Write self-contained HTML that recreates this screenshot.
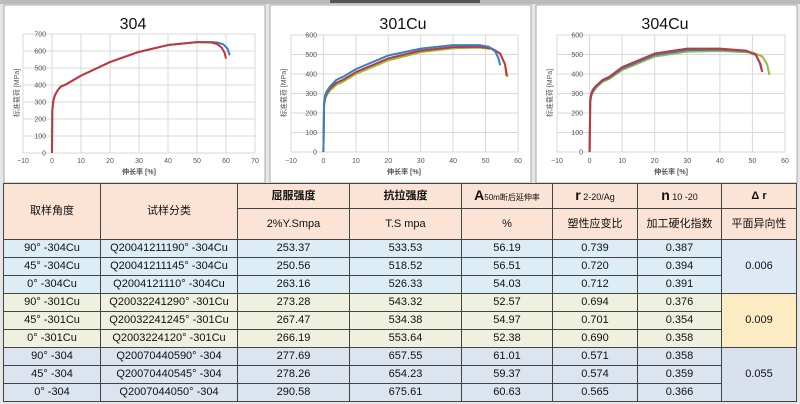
<!DOCTYPE html>
<html><head><meta charset="utf-8"><style>
body{margin:0;width:800px;height:404px;background:#e6e6e6;overflow:hidden;font-family:"Liberation Sans","Noto Sans CJK SC",sans-serif;position:relative}
svg{position:absolute;left:0;top:0}
table{position:absolute;left:3px;top:183px;border-collapse:collapse;table-layout:fixed;font-size:11px;color:#111}
td{border:1px solid #444;text-align:center;padding:0;height:17px;line-height:17px;white-space:nowrap;overflow:hidden}
.h{background:#fbe3d5}
.b td{background:#dcedf5}
.g td{background:#edf1de}
.p td{background:#dbe4ef}
td.m1{background:#dfe8f5!important}
td.m2{background:#fdebc4!important}
td.m3{background:#d9e0ee!important}
.bold{font-weight:bold;font-size:11px}
</style></head><body>
<svg width="800" height="404" font-family="Liberation Sans, Noto Sans CJK SC, sans-serif">
<rect x="0" y="0" width="800" height="4" fill="#bbb"/>
<rect x="330" y="0" width="150" height="3" fill="#555"/>
<rect x="4" y="5" width="261" height="178" fill="#fff" stroke="#aaa"/>
<rect x="270" y="5" width="261" height="178" fill="#fff" stroke="#aaa"/>
<rect x="536" y="5" width="261" height="178" fill="#fff" stroke="#aaa"/>
<g stroke="#d8d8d8" stroke-width="1">
<path d="M23 34H255M23 51H255M23 68H255M23 85H255M23 102H255M23 119H255M23 136H255M23 153H255"/>
<path d="M23 34V153M52 34V153M81 34V153M110 34V153M139 34V153M168 34V153M197 34V153M226 34V153M255 34V153"/>
<path d="M291 35H518M291 54.5H518M291 74H518M291 93.5H518M291 113H518M291 132.5H518M291 152H518"/>
<path d="M291 35V152M323.4 35V152M355.9 35V152M388.3 35V152M420.7 35V152M453.1 35V152M485.6 35V152M518 35V152"/>
<path d="M557 35H785M557 54.5H785M557 74H785M557 93.5H785M557 113H785M557 132.5H785M557 152H785"/>
<path d="M557 35V152M589.6 35V152M622.1 35V152M654.7 35V152M687.3 35V152M719.9 35V152M752.4 35V152M785 35V152"/>
</g>
<g font-size="16" fill="#111" text-anchor="middle">
<text x="133" y="29">304</text><text x="403" y="29">301Cu</text><text x="665" y="29">304Cu</text>
</g>
<g font-size="7" fill="#555" text-anchor="end">
<text x="46" y="36.5">700</text><text x="46" y="53.5">600</text><text x="46" y="70.5">500</text><text x="46" y="87.5">400</text><text x="46" y="104.5">300</text><text x="46" y="121.5">200</text><text x="46" y="138.5">100</text><text x="46" y="155.5">0</text>
<text x="317" y="37.5">600</text><text x="317" y="57">500</text><text x="317" y="76.5">400</text><text x="317" y="96">300</text><text x="317" y="115.5">200</text><text x="317" y="135">100</text><text x="317" y="154.5">0</text>
<text x="583" y="37.5">600</text><text x="583" y="57">500</text><text x="583" y="76.5">400</text><text x="583" y="96">300</text><text x="583" y="115.5">200</text><text x="583" y="135">100</text><text x="583" y="154.5">0</text>
</g>
<g font-size="7" fill="#555" text-anchor="middle">
<text x="23" y="163">−10</text><text x="52" y="163">0</text><text x="81" y="163">10</text><text x="110" y="163">20</text><text x="139" y="163">30</text><text x="168" y="163">40</text><text x="197" y="163">50</text><text x="226" y="163">60</text><text x="255" y="163">70</text>
<text x="291" y="163">−10</text><text x="323.4" y="163">0</text><text x="355.9" y="163">10</text><text x="388.3" y="163">20</text><text x="420.7" y="163">30</text><text x="453.1" y="163">40</text><text x="485.6" y="163">50</text><text x="518" y="163">60</text>
<text x="557" y="163">−10</text><text x="589.6" y="163">0</text><text x="622.1" y="163">10</text><text x="654.7" y="163">20</text><text x="687.3" y="163">30</text><text x="719.9" y="163">40</text><text x="752.4" y="163">50</text><text x="785" y="163">60</text>
<text x="139" y="174" font-weight="bold">伸长率 [%]</text>
<text x="404" y="174" font-weight="bold">伸长率 [%]</text>
<text x="671" y="174" font-weight="bold">伸长率 [%]</text>
<text transform="translate(19,93) rotate(-90)">标准载荷 [MPa]</text>
<text transform="translate(286,93) rotate(-90)">标准载荷 [MPa]</text>
<text transform="translate(552,93) rotate(-90)">标准载荷 [MPa]</text>
</g>
<g fill="none" stroke-width="2" stroke-linejoin="round">
<g transform="translate(52,153) scale(2.9,-0.17)">
<path vector-effect="non-scaling-stroke" stroke="#3c7ec4" d="M0 0L0.1 250L0.5 310L1 340L2 370L3 390L5 405L7 425L10 455L15 495L20 535L30 595L40 635L50 652L55 652L57 650L59 640L60.5 615L61.3 575"/>
<path vector-effect="non-scaling-stroke" stroke="#c0393b" d="M0 0L0.1 250L0.5 310L1 340L2 370L3 390L5 405L7 425L10 455L15 495L20 535L30 595L40 635L50 652L55 650L57 640L58.5 620L59.5 590L60 555"/>
</g>
<g transform="translate(323.4,152) scale(3.243,-0.195)">
<path vector-effect="non-scaling-stroke" stroke="#8cbd45" d="M0 0L0.2 230L0.5 270L1 290L2 315L4 345L6 360L10 400L20 470L30 512L40 532L48 535L52 528L54.5 505L56 450L56.8 385"/>
<path vector-effect="non-scaling-stroke" stroke="#c0393b" d="M0 0L0.2 240L0.5 280L1 300L2 325L4 355L6 370L10 410L20 480L30 520L40 538L48 540L52 530L54.5 505L56 450L56.5 390"/>
<path vector-effect="non-scaling-stroke" stroke="#3c7ec4" d="M0 0L0.2 250L0.5 290L1 310L2 335L4 370L6 385L10 425L20 495L30 530L40 548L48 548L51 540L53 515L54 480L54.5 445"/>
</g>
<g transform="translate(589.6,152) scale(3.257,-0.195)">
<path vector-effect="non-scaling-stroke" stroke="#8cbd45" d="M0 0L0.2 255L0.5 285L1 305L2 330L4 360L6 375L10 420L20 490L30 515L40 518L50 510L53 490L54.5 450L55.2 395"/>
<path vector-effect="non-scaling-stroke" stroke="#3c7ec4" d="M0 0L0.2 262L0.5 292L1 312L2 335L4 365L6 380L10 428L20 498L30 523L40 525L48 517L51 498L52.3 455L52.8 420"/>
<path vector-effect="non-scaling-stroke" stroke="#c0393b" d="M0 0L0.2 270L0.5 300L1 320L2 340L4 370L6 385L10 435L20 505L30 530L40 530L48 520L51 500L52.5 450L53 410"/>
</g>
</g>
</svg>
<table>
<colgroup><col style="width:97px"><col style="width:137px"><col style="width:112px"><col style="width:112px"><col style="width:91px"><col style="width:85px"><col style="width:84px"><col style="width:75px"></colgroup>
<tr class="h"><td class="h" rowspan="2">取样角度</td><td class="h" rowspan="2">试样分类</td><td class="h bold" style="height:24px">屈服强度</td><td class="h bold">抗拉强度</td><td class="h" style="font-size:8px"><b style="font-size:14px">A</b>50m断后延伸率</td><td class="h"><b style="font-size:14px">r</b><span style="font-size:9px"> 2-20/Ag</span></td><td class="h"><b style="font-size:14px">n</b><span style="font-size:9px"> 10 -20</span></td><td class="h bold">Δ r</td></tr>
<tr class="h"><td class="h" style="height:30px">2%Y.Smpa</td><td class="h">T.S mpa</td><td class="h">%</td><td class="h">塑性应变比</td><td class="h">加工硬化指数</td><td class="h">平面异向性</td></tr>
<tr class="b"><td>90° -304Cu</td><td>Q20041211190° -304Cu</td><td>253.37</td><td>533.53</td><td>56.19</td><td>0.739</td><td>0.387</td><td class="m1" rowspan="3">0.006</td></tr>
<tr class="b"><td>45° -304Cu</td><td>Q20041211145° -304Cu</td><td>250.56</td><td>518.52</td><td>56.51</td><td>0.720</td><td>0.394</td></tr>
<tr class="b"><td>0° -304Cu</td><td>Q2004121110° -304Cu</td><td>263.16</td><td>526.33</td><td>54.03</td><td>0.712</td><td>0.391</td></tr>
<tr class="g"><td>90° -301Cu</td><td>Q20032241290° -301Cu</td><td>273.28</td><td>543.32</td><td>52.57</td><td>0.694</td><td>0.376</td><td class="m2" rowspan="3">0.009</td></tr>
<tr class="g"><td>45° -301Cu</td><td>Q20032241245° -301Cu</td><td>267.47</td><td>534.38</td><td>54.97</td><td>0.701</td><td>0.354</td></tr>
<tr class="g"><td>0° -301Cu</td><td>Q2003224120° -301Cu</td><td>266.19</td><td>553.64</td><td>52.38</td><td>0.690</td><td>0.358</td></tr>
<tr class="p"><td>90° -304</td><td>Q20070440590° -304</td><td>277.69</td><td>657.55</td><td>61.01</td><td>0.571</td><td>0.358</td><td class="m3" rowspan="3">0.055</td></tr>
<tr class="p"><td>45° -304</td><td>Q20070440545° -304</td><td>278.26</td><td>654.23</td><td>59.37</td><td>0.574</td><td>0.359</td></tr>
<tr class="p"><td>0° -304</td><td>Q2007044050° -304</td><td>290.58</td><td>675.61</td><td>60.63</td><td>0.565</td><td>0.366</td></tr>
</table>
</body></html>
